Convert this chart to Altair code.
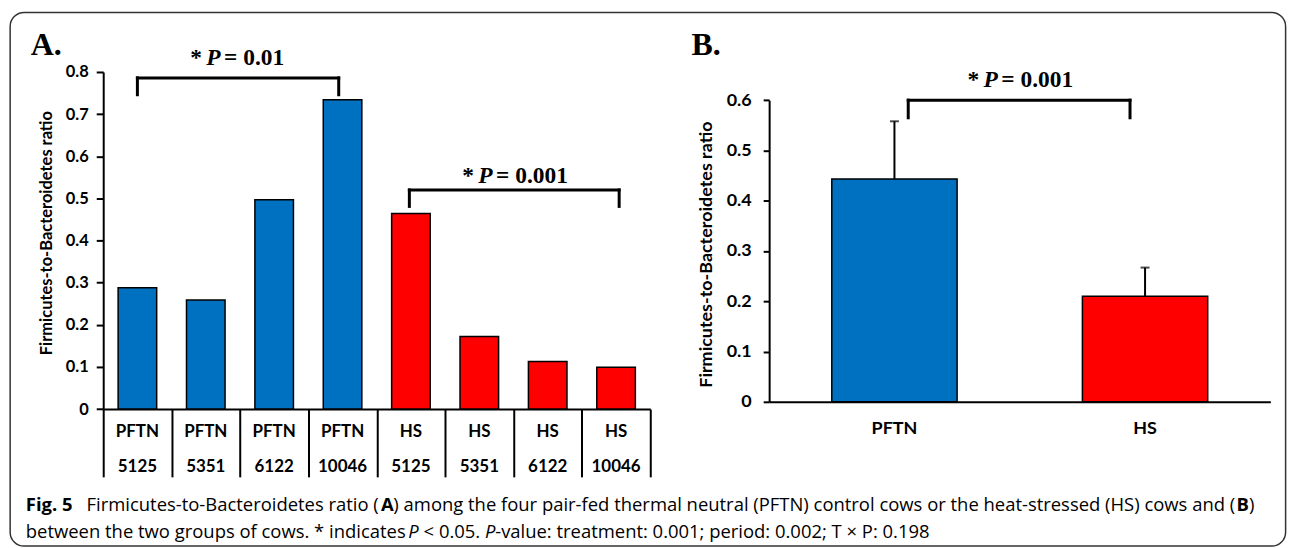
import altair as alt
import pandas as pd

# ---------------- data ----------------
groupsA = ["PFTN", "PFTN", "PFTN", "PFTN", "HS", "HS", "HS", "HS"]
cowsA = ["5125", "5351", "6122", "10046", "5125", "5351", "6122", "10046"]
ratioA = [0.288, 0.259, 0.497, 0.734, 0.464, 0.172, 0.113, 0.099]

groupsB = ["PFTN", "HS"]
meanB = [0.443, 0.210]
semB = [0.115, 0.057]

yTicksA = [0, 0.1, 0.2, 0.3, 0.4, 0.5, 0.6, 0.7, 0.8]
yTicksB = [0, 0.1, 0.2, 0.3, 0.4, 0.5, 0.6]

groupColors = ["#0070C0", "#FF0000"]
yTitle = "Firmicutes-to-Bacteroidetes ratio"

keysA = [f"{g} {c}" for g, c in zip(groupsA, cowsA)]
dfA = pd.DataFrame({"key": keysA, "group": groupsA, "cow": cowsA, "ratio": ratioA})
dfB = pd.DataFrame({"group": groupsB, "mean": meanB, "sem": semB})
dfB["upper"] = dfB["mean"] + dfB["sem"]

AX_FONT = "Lato"
SERIF = "Liberation Serif"
CAP_FONT = "Open Sans"

# panel A plot area: page (102.7, 70.7) .. (651.7, 409)
OX, OY = 102.7, 70.7
WA, HA = 549, 338.3
# panel B plot area: page (771, 70.7) .. (1274, 401.7), y 0.6 at page 99
WB, HB = 503, 331
SPACING = 771 - 651.7


def px(x):
    return x - OX


def py(y):
    return y - OY


xA = alt.Scale(domain=keysA, paddingInner=0, paddingOuter=0)
yA = alt.Scale(domain=[0, 0.8], nice=False)
xB = alt.Scale(domain=groupsB, paddingInner=0.5, paddingOuter=0.25)
yB = alt.Scale(domain=[0, 0.6], range=[HB, 99 - OY], nice=False)
colorScale = alt.Scale(domain=["PFTN", "HS"], range=groupColors)

labelExpr = "datum.value == 0 ? '0' : format(datum.value, '.1f')"

# ---------------- panel A ----------------
barsA = alt.Chart(dfA).mark_bar(stroke="black", strokeWidth=1.5,
                                width=alt.RelativeBandSize(0.564)).encode(
    x=alt.X("key:N", scale=xA, sort=keysA, axis=alt.Axis(
        labels=False, title=None, grid=False,
        domainColor="black", domainWidth=2, tickColor="black", tickWidth=2,
        tickSize=68, tickBand="extent")),
    y=alt.Y("ratio:Q", scale=yA, axis=alt.Axis(
        values=yTicksA, labelExpr=labelExpr, grid=False,
        domainColor="black", domainWidth=2, tickColor="black", tickWidth=2, tickSize=7,
        labelFont=AX_FONT, labelFontWeight="bold", labelFontSize=16.5, labelColor="black",
        labelPadding=8,
        title=yTitle, titleFont=AX_FONT, titleFontWeight="bold", titleFontSize=16.5,
        titleColor="black", titleAngle=270, titleX=-56.7, titleY=py(232),
        titleAlign="center", titleBaseline="middle")),
    color=alt.Color("group:N", scale=colorScale, legend=None),
)

rowGroup = alt.Chart(dfA).mark_text(font=AX_FONT, fontWeight="bold", fontSize=17,
                                    color="black", baseline="middle").encode(
    x=alt.X("key:N", scale=xA, sort=keysA, bandPosition=0.5),
    y=alt.value(py(431.7)), text="group:N")
rowCow = alt.Chart(dfA).mark_text(font=AX_FONT, fontWeight="bold", fontSize=17,
                                  color="black", baseline="middle").encode(
    x=alt.X("key:N", scale=xA, sort=keysA, bandPosition=0.5),
    y=alt.value(py(466.7)), text="cow:N")


def bracket(xs, ys, a, b, bpa, bpb, ytop, yleg):
    d = pd.DataFrame({"a": [a], "b": [b], "top": [ytop], "leg": [yleg]})
    base = alt.Chart(d)
    sty = dict(color="black", strokeWidth=3, strokeCap="square")
    h = base.mark_rule(**sty).encode(
        x=alt.X("a:N", scale=xs, bandPosition=bpa),
        x2=alt.X2("b:N", bandPosition=bpb),
        y=alt.Y("top:Q", scale=ys))
    l1 = base.mark_rule(**sty).encode(
        x=alt.X("a:N", scale=xs, bandPosition=bpa),
        y=alt.Y("top:Q", scale=ys), y2="leg:Q")
    l2 = base.mark_rule(**sty).encode(
        x=alt.X("b:N", scale=xs, bandPosition=bpb),
        y=alt.Y("top:Q", scale=ys), y2="leg:Q")
    return alt.layer(h, l1, l2)


# ---------------- annotations (panel A coordinates) ----------------
def txt(s, x, y, font, size, weight="normal", style="normal", align="left"):
    return alt.Chart(pd.DataFrame({"t": [s]})).mark_text(
        font=font, fontSize=size, fontWeight=weight, fontStyle=style, align=align,
        baseline="alphabetic", color="black").encode(
        x=alt.value(x), y=alt.value(y), text="t:N")


def pval(xpage, ypage, val):
    x0, yb = px(xpage), py(ypage)
    return [txt("*", x0, yb, SERIF, 23.5, "bold"),
            txt("P", x0 + 16, yb, SERIF, 23.5, "bold", "italic"),
            txt("= " + val, x0 + 34, yb, SERIF, 23.5, "bold")]


ann = []
ann += [txt("A.", px(30), py(53.3), SERIF, 32, "bold"),
        txt("B.", px(693), py(53.3), SERIF, 32, "bold")]
ann += pval(190, 64, "0.01")
ann += pval(463, 181.7, "0.001")
ann += pval(970, 86, "0.001")

# caption: pieces chained with widths estimated at 15.5px and scaled
cs = 18.5
k = cs / 15.5
L1, L2 = py(511.7), py(538)
x_firm = 86
x_A = x_firm + 250 * k - 3
x_among = x_A + 12.5
x_B = 1240
x_Bp = x_B + 12.5
x_P1 = 25 + 317 * k + 4.5 * k
x_lt = x_P1 + 9 * k + 4 * k
x_P2 = x_lt + 47.7 * k + 4 * k
x_val = x_P2 + 8.5 * k
ann += [
    txt("Fig. 5", px(25), L1, CAP_FONT, cs, "bold"),
    txt("Firmicutes-to-Bacteroidetes ratio (", px(x_firm), L1, CAP_FONT, cs),
    txt("A", px(x_A), L1, CAP_FONT, cs, "bold"),
    txt(") among the four pair-fed thermal neutral (PFTN) control cows or the heat-stressed (HS) cows and (",
        px(x_among), L1, CAP_FONT, cs),
    txt("B", px(x_B), L1, CAP_FONT, cs, "bold"),
    txt(")", px(x_Bp), L1, CAP_FONT, cs),
    txt("between the two groups of cows. * indicates", px(25), L2, CAP_FONT, cs),
    txt("P", px(x_P1), L2, CAP_FONT, cs, style="italic"),
    txt("< 0.05.", px(x_lt), L2, CAP_FONT, cs),
    txt("P", px(x_P2), L2, CAP_FONT, cs, style="italic"),
    txt("-value: treatment: 0.001; period: 0.002; T \u00d7 P: 0.198", px(x_val), L2, CAP_FONT, cs),
]

border = alt.Chart(pd.DataFrame({"b": [0]})).mark_rect(
    fillOpacity=0, stroke="#333333", strokeWidth=1.5, cornerRadius=14).encode(
    x=alt.value(px(9.3)), x2=alt.value(px(1289.3)), y=alt.value(py(11)), y2=alt.value(py(546.5)))

panelA = alt.layer(
    barsA, border, rowGroup, rowCow,
    bracket(xA, yA, "PFTN 5125", "PFTN 10046", 0.5, 0.444, 0.786, 0.746),
    bracket(xA, yA, "HS 5125", "HS 10046", 0.477, 0.545, 0.52, 0.481),
    *ann,
).properties(width=WA, height=HA)

# ---------------- panel B ----------------
barsB = alt.Chart(dfB).mark_bar(stroke="black", strokeWidth=1.5).encode(
    x=alt.X("group:N", scale=xB, sort=groupsB, axis=alt.Axis(
        title=None, grid=False, ticks=False, tickSize=0,
        domainColor="black", domainWidth=2, labelFont=AX_FONT, labelFontWeight="bold",
        labelFontSize=18, labelColor="black", labelPadding=27, labelBaseline="middle",
        labelAngle=0)),
    y=alt.Y("mean:Q", scale=yB, axis=alt.Axis(
        values=yTicksB, labelExpr=labelExpr, grid=False,
        domainColor="black", domainWidth=2, tickColor="black", tickWidth=2, tickSize=6,
        labelFont=AX_FONT, labelFontWeight="bold", labelFontSize=18, labelColor="black",
        labelPadding=12,
        title=yTitle, titleFont=AX_FONT, titleFontWeight="bold", titleFontSize=18,
        titleColor="black", titleAngle=270, titleX=-62.4, titleY=253.5 - OY,
        titleAlign="center", titleBaseline="middle")),
    color=alt.Color("group:N", scale=colorScale, legend=None),
)
errRule = alt.Chart(dfB).mark_rule(color="black", strokeWidth=2).encode(
    x=alt.X("group:N", scale=xB, sort=groupsB, bandPosition=0.5),
    y=alt.Y("mean:Q", scale=yB), y2="upper:Q")
errCap = alt.Chart(dfB).mark_tick(color="black", thickness=2, size=9, orient="horizontal").encode(
    x=alt.X("group:N", scale=xB, sort=groupsB, bandPosition=0.5),
    y=alt.Y("upper:Q", scale=yB))

panelB = alt.layer(
    barsB, errRule, errCap,
    bracket(xB, yB, "PFTN", "HS", 0.61, 0.38, 0.6, 0.565),
).properties(width=WB, height=HB)

chart = alt.hconcat(
    panelA, panelB, spacing=SPACING, bounds="flush",
    padding={"left": 0.55, "top": 2.25, "right": 0, "bottom": 0},
).configure_view(stroke=None)

chart.save("out.html", embed_options={"renderer": "svg", "actions": False})
